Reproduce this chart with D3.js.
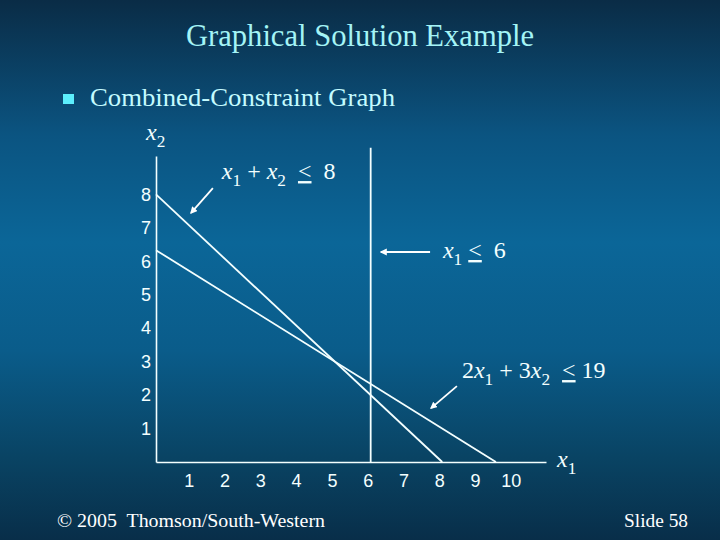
<!DOCTYPE html>
<html>
<head>
<meta charset="utf-8">
<script src="https://cdn.jsdelivr.net/npm/d3@7"></script>
<style>
  html, body { margin: 0; padding: 0; background: #0a2b45; }
  svg { display: block; }
  text { white-space: pre; }
</style>
</head>
<body>
<svg id="chart" width="720" height="540"></svg>
<script>
// ---------- data ----------
const titleText = "Graphical Solution Example";
const bulletText = "Combined-Constraint Graph";
const footerLeft = "© 2005  Thomson/South-Western";
const footerRight = "Slide 58";

const xTicks = [1, 2, 3, 4, 5, 6, 7, 8, 9, 10];
const yTicks = [1, 2, 3, 4, 5, 6, 7, 8];

// constraints: a*x1 + b*x2 <= rhs
const coefA = [1, 1, 2];
const coefB = [1, 0, 3];
const rhs = [8, 6, 19];
// label pieces: [text, role] ; role: n normal, v variable italic, s subscript, le "≤"
const constraintLabels = [
  [["x","v"],["1","s"],[" + ","n"],["x","v"],["2","s"],["  ","n"],["<","le"],["  8","n"]],
  [["x","v"],["1","s"],[" ","n"],["<","le"],["  6","n"]],
  [["2","n"],["x","v"],["1","s"],[" + 3","n"],["x","v"],["2","s"],["  ","n"],["<","le"],[" 19","n"]]
];
// annotation anchors in data units
const labelPos = [[1.84, 8.46], [8.02, 6.1], [8.55, 2.51]];
const arrowFrom = [[1.59, 8.19], [7.66, 6.28], [8.41, 2.27]];
const arrowTo = [[0.98, 7.45], [6.29, 6.28], [7.69, 1.61]];

// ---------- setup ----------
const svg = d3.select("#chart");
const defs = svg.append("defs");
const grad = defs.append("linearGradient").attr("id", "bg")
  .attr("x1", 0).attr("y1", 0).attr("x2", 0).attr("y2", 1);
[[0, "#0a2c46"], [0.25, "#0b5481"], [0.45, "#0b6698"], [0.65, "#0a5c8a"], [0.85, "#094363"], [1, "#082e49"]]
  .forEach(([o, c]) => grad.append("stop").attr("offset", o).attr("stop-color", c));
svg.append("rect").attr("width", 720).attr("height", 540).attr("fill", "url(#bg)");

defs.append("marker").attr("id", "arrow")
  .attr("viewBox", "0 0 10 10").attr("refX", 8).attr("refY", 5)
  .attr("markerWidth", 4).attr("markerHeight", 4).attr("orient", "auto")
  .append("path").attr("d", "M0,0 L10,5 L0,10 z").attr("fill", "#ffffff");

const serif = "'Liberation Serif', 'DejaVu Serif', serif";
const sans = "'Liberation Sans', Arial, sans-serif";

// title
svg.append("text").attr("x", 360).attr("y", 46).attr("text-anchor", "middle")
  .attr("font-family", serif).attr("font-size", 31).attr("fill", "#a4f4f6")
  .attr("textLength", 348).attr("lengthAdjust", "spacingAndGlyphs")
  .text(titleText);

// bullet
svg.append("rect").attr("x", 63).attr("y", 94).attr("width", 11).attr("height", 10).attr("fill", "#5ceefc");
svg.append("text").attr("x", 90).attr("y", 106)
  .attr("font-family", serif).attr("font-size", 26).attr("fill", "#c4fbff")
  .attr("textLength", 305).attr("lengthAdjust", "spacingAndGlyphs")
  .text(bulletText);

// ---------- scales ----------
const x = d3.scaleLinear().domain([0, 10.9]).range([156, 546]);
const y = d3.scaleLinear().domain([0, 9.15]).range([462, 156]);

// axes
const gx = svg.append("g").attr("transform", `translate(0,${y(0)})`)
  .call(d3.axisBottom(x).tickValues(xTicks).tickFormat(d3.format("d")).tickSize(0).tickPadding(12));
const gy = svg.append("g").attr("transform", `translate(${x(0)},0)`)
  .call(d3.axisLeft(y).tickValues(yTicks).tickFormat(d3.format("d")).tickSize(0).tickPadding(5));
[gx, gy].forEach(g => {
  g.select(".domain").attr("stroke", "#f4ffff").attr("stroke-width", 1.6);
  g.selectAll("text").attr("font-family", sans).attr("font-size", 18).attr("fill", "#f4ffff");
});
gx.selectAll(".tick text").attr("dx", -3);

// axis titles
function mathLabel(g, pieces, size) {
  const t = g.append("text").attr("font-family", serif).attr("font-size", size).attr("fill", "#f4ffff");
  let sub = false;
  pieces.forEach(([s, r]) => {
    const ts = t.append("tspan").text(s);
    if (r === "v") ts.attr("font-style", "italic");
    if (r === "s") { ts.attr("font-size", size * 0.72).attr("dy", size * 0.28); sub = true; }
    else if (sub) { ts.attr("dy", -size * 0.28); sub = false; }
    if (r === "le") ts.attr("text-decoration", "underline");
  });
  return t;
}
mathLabel(svg, [["x","v"],["2","s"]], 24).attr("x", 146).attr("y", 140);
mathLabel(svg, [["x","v"],["1","s"]], 24).attr("x", 557).attr("y", 467);

// ---------- constraint lines ----------
const yTop = y.domain()[1];
const lineData = rhs.map((r, i) => {
  if (coefB[i] === 0) return [[r / coefA[i], 0], [r / coefA[i], yTop + 0.25]];
  return [[0, r / coefB[i]], [r / coefA[i], 0]];
});
svg.append("g").selectAll("line").data(lineData).join("line")
  .attr("x1", d => x(d[0][0])).attr("y1", d => y(d[0][1]))
  .attr("x2", d => x(d[1][0])).attr("y2", d => y(d[1][1]))
  .attr("stroke", "#f4ffff").attr("stroke-width", 1.8);

// ---------- annotations ----------
svg.append("g").selectAll("line").data(arrowFrom).join("line")
  .attr("x1", d => x(d[0])).attr("y1", d => y(d[1]))
  .attr("x2", (d, i) => x(arrowTo[i][0])).attr("y2", (d, i) => y(arrowTo[i][1]))
  .attr("stroke", "#ffffff").attr("stroke-width", 1.8).attr("marker-end", "url(#arrow)");

constraintLabels.forEach((pieces, i) => {
  mathLabel(svg, pieces, 24).attr("x", x(labelPos[i][0])).attr("y", y(labelPos[i][1]));
});

// footer
svg.append("text").attr("x", 57).attr("y", 527).attr("font-family", serif)
  .attr("font-size", 18).attr("fill", "#ffffff")
  .attr("textLength", 268).attr("lengthAdjust", "spacingAndGlyphs").text(footerLeft);
svg.append("text").attr("x", 624).attr("y", 527).attr("font-family", serif)
  .attr("font-size", 18).attr("fill", "#ffffff")
  .attr("textLength", 64).attr("lengthAdjust", "spacingAndGlyphs").text(footerRight);
</script>
</body>
</html>
